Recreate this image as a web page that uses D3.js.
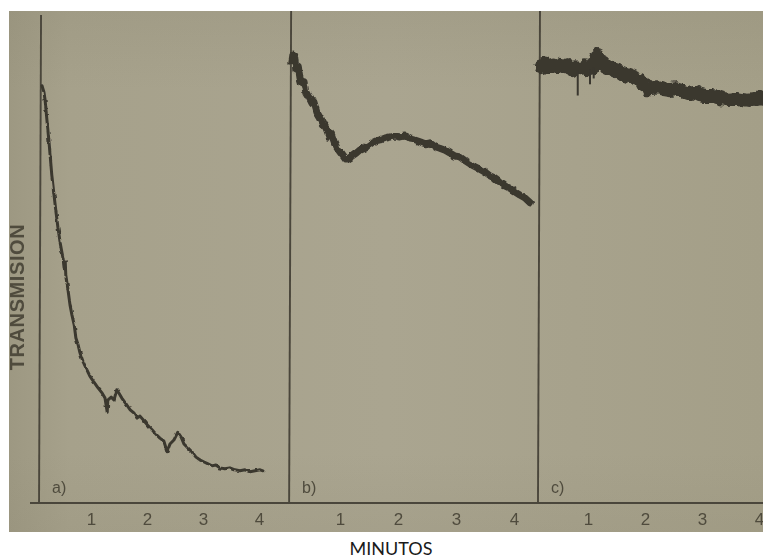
<!DOCTYPE html>
<html>
<head>
<meta charset="utf-8">
<script src="https://cdn.jsdelivr.net/npm/d3@7"></script>
<style>
  html, body { margin: 0; padding: 0; background: #ffffff; }
  svg { display: block; }
</style>
</head>
<body>
<svg id="chart" width="763" height="559"></svg>
<script>
// ---- data (time in minutes, transmission in arbitrary units 0-100) ----
const panelLabels = ["a)", "b)", "c)"];
const tickValues = [1, 2, 3, 4];
const tickLabels = ["1", "2", "3", "4"];
const yLabel = "TRANSMISION";
const xLabel = "MINUTOS";

const seriesA_t = [0.125,0.16,0.18,0.20,0.23,0.25,0.27,0.30,0.34,0.375,0.41,0.45,0.48,0.50,0.52,0.54,0.55,0.59,0.625,0.66,0.70,0.73,0.77,0.80,0.86,0.91,0.98,1.05,1.125,1.20,1.25,1.29,1.30,1.36,1.41,1.46,1.50,1.55,1.625,1.70,1.77,1.82,1.875,1.95,2.02,2.09,2.16,2.23,2.30,2.36,2.41,2.48,2.55,2.61,2.66,2.73,2.80,2.875,2.95,3.02,3.09,3.16,3.23,3.30,3.39,3.48,3.57,3.66,3.75,3.84,3.93,4.02,4.07];
const seriesA_v = [85.5,84.2,82.6,80.1,76.4,74.0,71.3,67.2,63.1,59.6,56.4,53.3,51.4,50.2,48.2,49.4,46.7,43.6,40.6,38.5,36.5,33.8,32.4,30.9,28.9,27.7,26.0,24.8,23.6,22.5,21.5,18.6,21.1,21.7,21.1,23.2,22.5,21.5,20.3,19.1,18.4,17.4,17.8,16.8,15.8,15.0,14.1,13.3,12.7,10.5,12.1,12.9,14.5,13.5,12.1,11.3,10.5,9.4,8.8,8.4,8.0,7.6,7.8,7.2,7.0,7.2,6.8,6.6,6.8,6.4,6.6,6.8,6.6];

const seriesB_t = [0.17,0.19,0.22,0.24,0.28,0.31,0.34,0.38,0.41,0.47,0.52,0.55,0.60,0.66,0.71,0.76,0.81,0.84,0.90,0.95,1.00,1.05,1.10,1.155,1.21,1.28,1.34,1.41,1.48,1.55,1.62,1.69,1.78,1.86,1.95,2.03,2.12,2.21,2.29,2.38,2.47,2.55,2.64,2.72,2.81,2.90,2.98,3.07,3.16,3.24,3.33,3.41,3.50,3.59,3.67,3.76,3.84,3.93,4.02,4.10,4.19,4.28];
const seriesB_v = [90.4,92.0,91.2,88.7,89.5,87.1,85.9,86.3,84.2,83.0,81.8,82.2,80.1,78.9,77.7,76.8,75.2,76.0,74.0,72.7,71.9,71.1,70.3,70.7,71.1,71.7,72.3,72.7,73.2,73.8,74.2,74.4,74.8,75.0,75.2,75.0,75.2,74.6,74.4,74.0,73.6,73.8,73.0,72.7,72.3,71.7,71.1,70.9,70.1,69.5,68.9,68.4,67.8,67.0,66.6,65.8,65.0,64.5,63.7,63.1,62.5,61.5];

const seriesC_t = [0.175,0.245,0.32,0.39,0.46,0.53,0.60,0.67,0.74,0.79,0.86,0.93,1.00,1.07,1.12,1.16,1.19,1.25,1.32,1.39,1.47,1.56,1.65,1.74,1.82,1.91,1.96,2.035,2.12,2.23,2.33,2.44,2.54,2.65,2.75,2.86,2.96,3.07,3.18,3.28,3.39,3.49,3.60,3.70,3.81,3.91,4.02,4.07];
const seriesC_v = [89.5,90.0,89.1,89.8,89.3,90.0,89.1,89.5,88.7,89.3,89.1,89.5,88.9,89.1,90.4,91.8,90.8,90.4,89.5,89.1,88.7,88.3,87.9,87.5,87.1,86.7,85.5,85.0,85.0,85.2,84.8,84.6,84.8,84.4,84.0,84.2,83.6,83.4,83.4,83.2,82.8,82.6,82.8,82.6,82.4,82.6,83.0,82.8];
// thin downward spikes in trace c
const spikesC_t = [0.82, 1.035, 1.10];
const spikesC_v = [83.5, 85.8, 87.0];
const spikesC_base = [88.6, 88.8, 89.2];

// ---- layout ----
const svg = d3.select("#chart");
const scan = {x0: 9, y0: 11, x1: 763, y1: 532};
const baseY = 503, topY = 15;

const defs = svg.append("defs");
const grad = defs.append("linearGradient").attr("id", "paper").attr("x1", "0").attr("x2", "1").attr("y1", "0").attr("y2", "0");
grad.append("stop").attr("offset", "0%").attr("stop-color", "#9d9882");
grad.append("stop").attr("offset", "8%").attr("stop-color", "#a6a18b");
grad.append("stop").attr("offset", "50%").attr("stop-color", "#aaa590");
grad.append("stop").attr("offset", "100%").attr("stop-color", "#a49f88");
const grad2 = defs.append("linearGradient").attr("id", "paperV").attr("x1", "0").attr("x2", "0").attr("y1", "0").attr("y2", "1");
grad2.append("stop").attr("offset", "0%").attr("stop-color", "#8f8a74").attr("stop-opacity", 0.25);
grad2.append("stop").attr("offset", "15%").attr("stop-color", "#8f8a74").attr("stop-opacity", 0);
grad2.append("stop").attr("offset", "85%").attr("stop-color", "#8f8a74").attr("stop-opacity", 0);
grad2.append("stop").attr("offset", "100%").attr("stop-color", "#8f8a74").attr("stop-opacity", 0.2);

// ragged ink filter (style only: roughens the pen trace edges)
function roughFilter(id, scale, freq) {
  const f = defs.append("filter").attr("id", id).attr("filterUnits", "userSpaceOnUse")
    .attr("x", 0).attr("y", 0).attr("width", 763).attr("height", 559);
  f.append("feTurbulence").attr("type", "fractalNoise").attr("baseFrequency", freq).attr("numOctaves", 1).attr("seed", 7).attr("result", "noise");
  f.append("feDisplacementMap").attr("in", "SourceGraphic").attr("in2", "noise").attr("scale", scale)
    .attr("xChannelSelector", "R").attr("yChannelSelector", "G").attr("result", "disp");
  f.append("feGaussianBlur").attr("in", "disp").attr("stdDeviation", 0.4);
}
roughFilter("roughA", 3, 0.22);
roughFilter("roughB", 5, 0.2);
roughFilter("roughC", 8, 0.18);
// soft blur for scanned look (default bounding-box region)
const soft = defs.append("filter").attr("id", "soft")
  .attr("x", "-20%").attr("y", "-20%").attr("width", "140%").attr("height", "140%");
soft.append("feGaussianBlur").attr("stdDeviation", 0.45);

svg.append("rect").attr("x", scan.x0).attr("y", scan.y0)
  .attr("width", scan.x1 - scan.x0).attr("height", scan.y1 - scan.y0)
  .attr("fill", "url(#paper)");
svg.append("rect").attr("x", scan.x0).attr("y", scan.y0)
  .attr("width", scan.x1 - scan.x0).attr("height", scan.y1 - scan.y0)
  .attr("fill", "url(#paperV)");

const y = d3.scaleLinear().domain([0, 100]).range([baseY, topY]);

const panels = [
  {t: seriesA_t, v: seriesA_v, origin: 35, ppm: 56, axisT: 0.09, axisTop: 15, width: 3, filter: "roughA", label: panelLabels[0]},
  {t: seriesB_t, v: seriesB_v, origin: 282, ppm: 58, axisT: 0.14, axisTop: scan.y0, width: 7, filter: "roughB", label: panelLabels[1]},
  {t: seriesC_t, v: seriesC_v, origin: 531, ppm: 57, axisT: 0.14, axisTop: scan.y0, width: 14, filter: "roughC", label: panelLabels[2]}
];

const ink = "#3a372f";
const axisInk = "#4a463b";
const textInk = "#4f4b3d";

// baseline across all panels
svg.append("line").attr("x1", 30).attr("x2", scan.x1).attr("y1", y(0)).attr("y2", y(0))
  .attr("stroke", axisInk).attr("stroke-width", 1.8);

panels.forEach((p, i) => {
  const x = d3.scaleLinear().domain([0, 4]).range([p.origin, p.origin + 4 * p.ppm]);
  const g = svg.append("g");
  // vertical axis
  g.append("line")
    .attr("x1", x(p.axisT) + 1).attr("x2", x(p.axisT) - 1)
    .attr("y1", p.axisTop).attr("y2", y(0))
    .attr("stroke", axisInk).attr("stroke-width", 1.9);
  // tick labels via d3 axis
  const ax = d3.axisBottom(x).tickValues(tickValues).tickFormat((d, j) => tickLabels[j]).tickSize(0).tickPadding(10);
  const axg = g.append("g").attr("transform", `translate(0,${y(0)})`).call(ax);
  axg.select(".domain").remove();
  axg.selectAll("text").attr("fill", textInk).attr("filter", "url(#soft)")
    .style("font-family", "'Liberation Sans', Arial, sans-serif").style("font-size", "17px");
  // trace
  const pts = p.t.map((t, k) => [t, p.v[k]]);
  const line = d3.line().x(d => x(d[0])).y(d => y(d[1]));
  g.append("path").datum(pts).attr("d", line)
    .attr("fill", "none").attr("stroke", ink).attr("stroke-width", p.width)
    .attr("stroke-linejoin", "round").attr("stroke-linecap", "round")
    .attr("filter", `url(#${p.filter})`);
  if (i === 2) {
    spikesC_t.forEach((t, k) => {
      g.append("line").attr("x1", x(t)).attr("x2", x(t))
        .attr("y1", y(spikesC_base[k])).attr("y2", y(spikesC_v[k]))
        .attr("stroke", ink).attr("stroke-width", 2);
    });
  }
  // panel label
  g.append("text").attr("x", x(p.axisT) + 12).attr("y", y(0) - 10)
    .attr("fill", textInk).attr("filter", "url(#soft)")
    .style("font-family", "'Liberation Sans', Arial, sans-serif").style("font-size", "16px")
    .text(p.label);
});

// y label
svg.append("text")
  .attr("transform", `translate(24,297) rotate(-90)`)
  .attr("text-anchor", "middle")
  .attr("fill", "#4f4b3e").attr("filter", "url(#soft)")
  .style("font-family", "'Liberation Sans', Arial, sans-serif")
  .style("font-size", "20px").style("font-weight", "bold").style("letter-spacing", "0.6px")
  .text(yLabel);

// x label
svg.append("text")
  .attr("x", 391).attr("y", 555)
  .attr("text-anchor", "middle")
  .attr("fill", "#1a1a1a")
  .style("font-family", "Lato, 'Open Sans', sans-serif")
  .style("font-size", "18px")
  .text(xLabel);
</script>
</body>
</html>
